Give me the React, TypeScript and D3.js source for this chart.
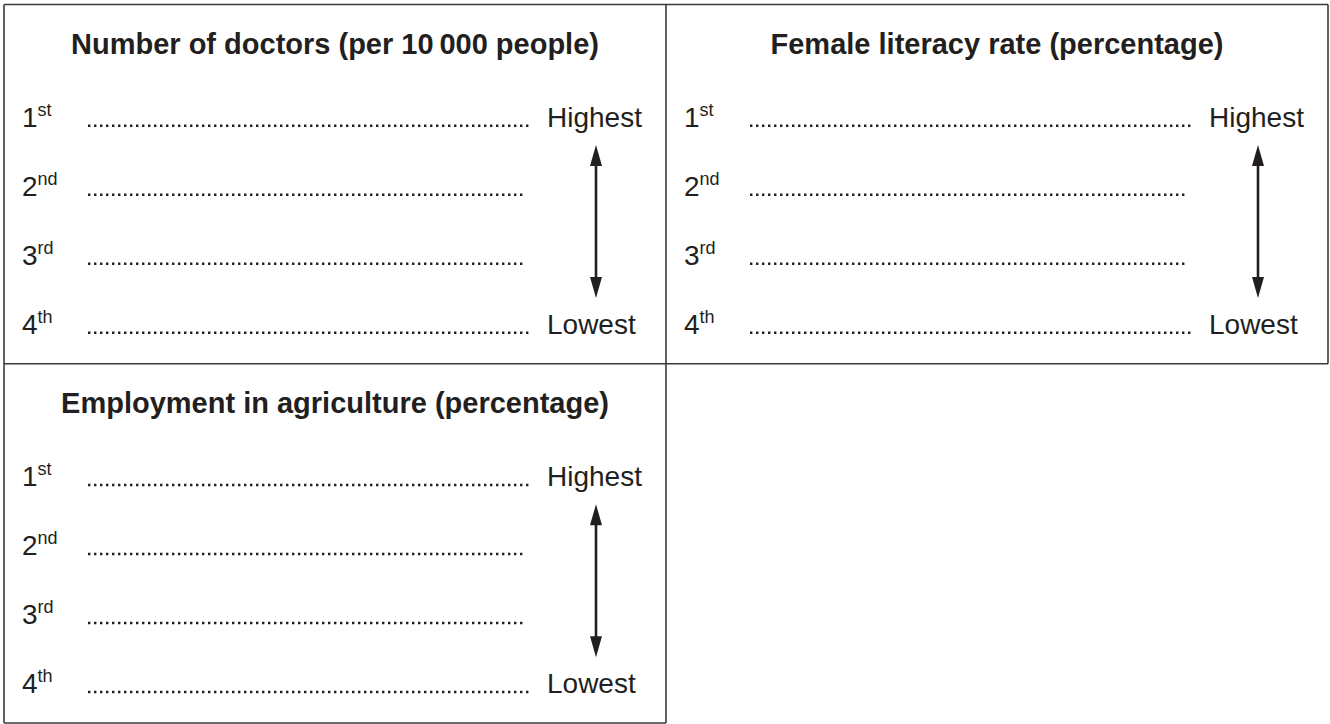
import React from "react";
import * as d3 from "d3";

const panelTitles = [
  "Number of doctors (per 10\u2009000 people)",
  "Female literacy rate (percentage)",
  "Employment in agriculture (percentage)",
];
const rankNumbers = ["1", "2", "3", "4"];
const rankSuffixes = ["st", "nd", "rd", "th"];
const extremeLabels = ["Highest", "Lowest"];
const dotLineEnds = [1, 0.985, 0.985, 1];

const W = 1330;
const H = 724;
const INK = "#231f20";
const FONT = "'Liberation Sans', Arial, Helvetica, sans-serif";

export default function App() {
  const left = 4;
  const top = 4.5;
  const right = 1328;
  const bottom = 723;
  const colX = d3.scaleBand<number>().domain([0, 1]).range([left, right]);
  const rowY = d3.scaleBand<number>().domain([0, 1]).range([top, bottom]);
  const pw = colX.bandwidth();
  const midX = colX(1)!;
  const midY = rowY(1)!;

  const rankY = d3.scalePoint<string>().domain(rankNumbers).range([123, 330]);
  const dotX0 = 84;
  const dotX1 = 528;
  const labelX = 543;
  const arrowX = 592;
  const arrowTop = 145;
  const arrowBot = 298;

  const panels = panelTitles.map((t, i) => ({
    title: t,
    x: colX(i % 2)!,
    y: rowY(Math.floor(i / 2))!,
  }));

  const head = (tipY: number, dir: number) => {
    const p = d3.path();
    p.moveTo(arrowX, tipY);
    p.lineTo(arrowX - 6, tipY + dir * 21);
    p.lineTo(arrowX + 6, tipY + dir * 21);
    p.closePath();
    return p.toString();
  };

  return (
    <div style={{ position: "absolute", left: 0, top: 0, background: "#fff" }}>
      <svg width={W} height={H} viewBox={`0 0 ${W} ${H}`} style={{ display: "block" }}>
        <rect width={W} height={H} fill="#fff" />
        <g stroke="#3a3a3a" strokeWidth={1.6} fill="none">
          <line x1={left} y1={top} x2={right} y2={top} />
          <line x1={left} y1={midY} x2={right} y2={midY} />
          <line x1={left} y1={bottom} x2={midX} y2={bottom} />
          <line x1={left} y1={top} x2={left} y2={bottom} />
          <line x1={midX} y1={top} x2={midX} y2={bottom} />
          <line x1={right} y1={top} x2={right} y2={midY} />
        </g>
        {panels.map((p, i) => (
          <g key={i} transform={`translate(${p.x},${p.y - top})`} fill={INK} fontFamily={FONT}>
            <text
              x={pw / 2}
              y={54}
              textAnchor="middle"
              fontWeight="bold"
              fontSize={29}
            >
              {p.title}
            </text>
            {rankNumbers.map((r, j) => (
              <g key={r}>
                <text x={18} y={rankY(r)! + 4} fontSize={28}>
                  {r}
                  <tspan fontSize={18} dy={-11}>
                    {rankSuffixes[j]}
                  </tspan>
                </text>
                <line
                  x1={dotX0}
                  x2={dotX0 + (dotX1 - dotX0) * dotLineEnds[j]}
                  y1={rankY(r)! + 2.8}
                  y2={rankY(r)! + 2.8}
                  stroke={INK}
                  strokeWidth={2.4}
                  strokeDasharray="2.4 3.6"
                />
              </g>
            ))}
            <text x={labelX} y={rankY("1")! + 4} fontSize={28}>
              {extremeLabels[0]}
            </text>
            <text x={labelX} y={rankY("4")! + 4} fontSize={28}>
              {extremeLabels[1]}
            </text>
            <line
              x1={arrowX}
              x2={arrowX}
              y1={arrowTop + 10}
              y2={arrowBot - 10}
              stroke={INK}
              strokeWidth={2.6}
            />
            <path d={head(arrowTop, 1)} />
            <path d={head(arrowBot, -1)} />
          </g>
        ))}
      </svg>
    </div>
  );
}
